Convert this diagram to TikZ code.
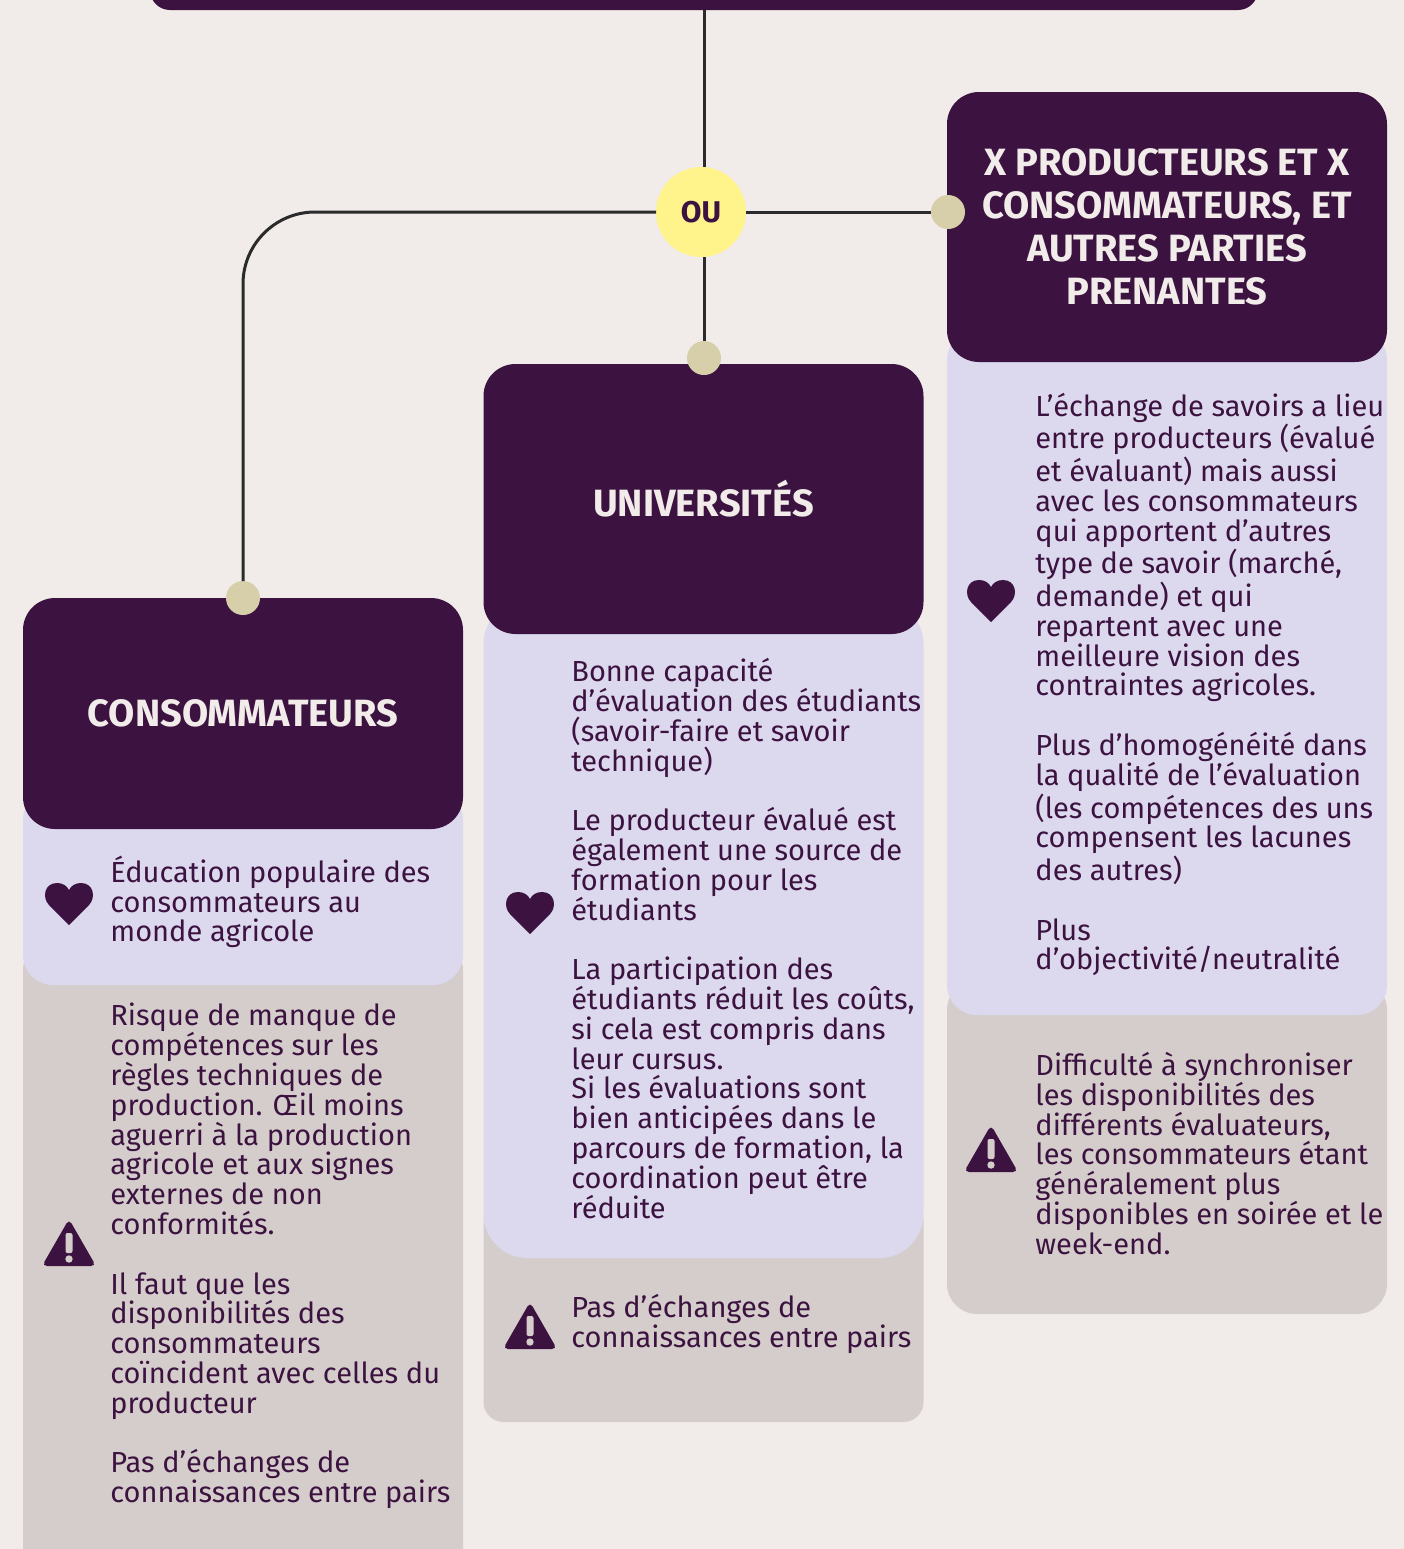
\documentclass[tikz,border=0pt]{standalone}
\usepackage{fontspec}
\setmainfont{Fira Sans}
\definecolor{plum}{HTML}{3C1340}
\definecolor{paper}{HTML}{F1ECE9}
\definecolor{lilac}{HTML}{DCD8ED}
\definecolor{taupe}{HTML}{D5CDCB}
\definecolor{sand}{HTML}{D6CFAA}
\definecolor{lemon}{HTML}{FFF48C}
\definecolor{wire}{HTML}{2B2B2B}
\tikzset{
  band/.style={minimum width=220pt,inner sep=0,outer sep=0},
  headbox/.style={band,fill=plum,rounded corners=16pt,text=paper,align=center,
    font=\fontsize{19}{21.5}\selectfont\bfseries},
  prosbox/.style={band,fill=lilac,rounded corners=15pt},
  consbox/.style={band,fill=taupe,rounded corners=15pt},
  bodytext/.style={anchor=west,inner sep=0,align=left,text=plum,
    font=\fontsize{14.5}{14.9}\selectfont},
  dot/.style={circle,fill=sand,minimum size=17pt,inner sep=0,outer sep=0},
  wireline/.style={wire,line width=1.5pt},
  heart/.pic={
    \fill [plum] (0,21) -- (-20,1) .. controls (-27,-6) and (-25,-21) .. (-12,-21)
      .. controls (-6,-21) and (-2,-18) .. (0,-14) .. controls (2,-18) and (6,-21) .. (12,-21)
      .. controls (25,-21) and (27,-6) .. (20,1) -- cycle;
  },
  warn/.pic={
    \fill [plum,rounded corners=2.5pt] (0,-26) -- (-27,21) -- (27,21) -- cycle;
    \fill [taupe,rounded corners=1pt] (-3.5,-12) rectangle (3.5,8);
    \fill [taupe] (0,14) circle [radius=3.7];
  },
}

\begin{document}
\begin{tikzpicture}[x=0.5pt,y=-0.5pt]
  \useasboundingbox (0,0) rectangle (1404,1549);
  \clip (0,0) rectangle (1404,1549);
  \fill [paper] (0,0) rectangle (1404,1549);

  \node [fill=plum,rounded corners=10pt,minimum width=554pt,minimum height=30pt,inner sep=0,outer sep=0] (topbar) at (704,-20) {};

  \node [consbox,minimum height=330pt] (conscons) at (243,1270) {};
  \node [prosbox,minimum height=97.5pt] (proscons) at (243,887.5) {};
  \node [headbox,minimum height=115.5pt] (headcons) at (243,713.5) {CONSOMMATEURS};

  \node [consbox,rounded corners=10pt,minimum height=111pt] (consuni) at (703.5,1311) {};
  \node [prosbox,rounded corners=22pt,minimum height=329pt] (prosuni) at (703.5,929) {};
  \node [headbox,minimum height=135pt] (headuni) at (703.5,499) {UNIVERSITÉS};

  \node [consbox,minimum height=167pt] (consprod) at (1167,1147) {};
  \node [prosbox,minimum height=342.5pt] (prosprod) at (1167,672.5) {};
  \node [headbox,minimum height=135pt] (headprod) at (1167,227) {X PRODUCTEURS ET X\\CONSOMMATEURS, ET\\AUTRES PARTIES\\PRENANTES};

  \node [dot] (dotcons) at (243,598) {};
  \node [dot] (dotuni) at (704,358) {};
  \node [dot] (dotprod) at (948,212) {};

  \draw [wireline] (topbar.south) -- (dotuni.north);
  \node [circle,fill=lemon,minimum size=45pt,inner sep=0,outer sep=0,text=plum,font=\fontsize{15}{15}\selectfont\bfseries] (ou) at (701,212) {OU};
  \draw [wireline] (ou.east) -- (dotprod.west);
  \draw [wireline,rounded corners=36pt] (ou.west) -| (dotcons.north);

  \pic at (69,904) {heart};
  \pic at (69,1245) {warn};
  \pic at (530,913) {heart};
  \pic at (530,1328) {warn};
  \pic at (991,601) {heart};
  \pic at (991,1151) {warn};

  \node [bodytext] (txtproscons) at (110,902) {Éducation populaire des\\consommateurs au\\monde agricole};
  \node [bodytext] (txtconscons) at (110,1256) {Risque de manque de\\compétences sur les\\règles techniques de\\production. Œil moins\\aguerri à la production\\agricole et aux signes\\externes de non\\conformités.\\[14.9pt]Il faut que les\\disponibilités des\\consommateurs\\coïncident avec celles du\\producteur\\[14.9pt]Pas d’échanges de\\connaissances entre pairs};

  \node [bodytext] (txtprosuni) at (571,938.5) {Bonne capacité\\d’évaluation des étudiants\\(savoir-faire et savoir\\technique)\\[14.9pt]Le producteur évalué est\\également une source de\\formation pour les\\étudiants\\[14.9pt]La participation des\\étudiants réduit les coûts,\\si cela est compris dans\\leur cursus.\\Si les évaluations sont\\bien anticipées dans le\\parcours de formation, la\\coordination peut être\\réduite};
  \node [bodytext] (txtconsuni) at (571,1324) {Pas d’échanges de\\connaissances entre pairs};

  \node [bodytext] (txtprosprod) at (1035,684.5) {L’échange de savoirs a lieu\\entre producteurs (évalué\\et évaluant) mais aussi\\avec les consommateurs\\qui apportent d’autres\\type de savoir (marché,\\demande) et qui\\repartent avec une\\meilleure vision des\\contraintes agricoles.\\[14.9pt]Plus d’homogénéité dans\\la qualité de l’évaluation\\(les compétences des uns\\compensent les lacunes\\des autres)\\[14.9pt]Plus\\d’objectivité/neutralité};
  \node [bodytext] (txtconsprod) at (1035,1153.5) {Difficulté à synchroniser\\les disponibilités des\\différents évaluateurs,\\les consommateurs étant\\généralement plus\\disponibles en soirée et le\\week-end.};
\end{tikzpicture}
\end{document}
